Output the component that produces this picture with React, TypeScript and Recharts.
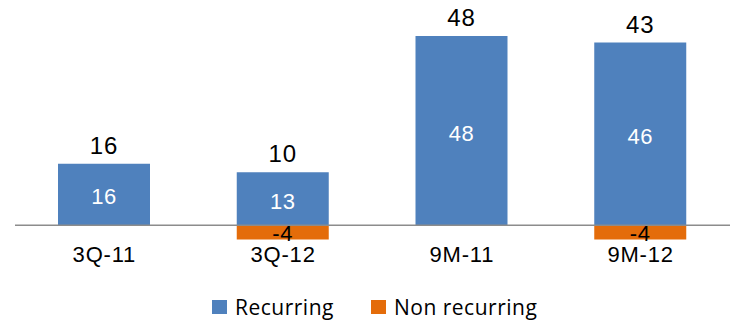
import React from 'react';
import { BarChart, Bar, XAxis, YAxis, ReferenceLine, LabelList, Legend } from 'recharts';

const categories = ['3Q-11', '3Q-12', '9M-11', '9M-12'];
const recurring = [15.6, 13.4, 48, 46.3];
const nonRecurring: (number | null)[] = [null, -3.6, null, -3.6];

const COLORS = {
  recurring: '#4F81BD',
  nonRecurring: '#E46C0A',
  axis: '#8C8C8C',
  text: '#000000',
};

const data = categories.map((category, i) => ({
  category,
  recurring: recurring[i],
  nonRecurring: nonRecurring[i],
  total: recurring[i] + (nonRecurring[i] ?? 0),
}));

// total above the positive stack
const TotalLabel = (props: any) => {
  const { x, y, width, value } = props;
  if (value == null) return null;
  return (
    <text x={x + width / 2} y={y - 10} textAnchor="middle" fontSize={24} letterSpacing={0.8} fill={COLORS.text}>
      {Math.round(value)}
    </text>
  );
};

const InnerLabel = (props: any) => {
  const { x, y, width, height, value } = props;
  if (value == null) return null;
  return (
    <text x={x + width / 2} y={y + height / 2} dy={10} textAnchor="middle" fontSize={22} letterSpacing={0.6} fill="#FFFFFF">
      {Math.round(value)}
    </text>
  );
};

const NegLabel = (props: any) => {
  const { x, y, width, height, value } = props;
  if (value == null || value === 0) return null;
  return (
    <text x={x + width / 2} y={y + height / 2} dy="0.4em" textAnchor="middle" fontSize={22} letterSpacing={0.6} fill={COLORS.text}>
      {Math.round(value)}
    </text>
  );
};

const LegendContent = () => (
  <div style={{ display: 'flex', alignItems: 'center', fontFamily: '"Open Sans", Lato, sans-serif', fontSize: 21, letterSpacing: 0.5, color: '#000' }}>
    <span style={{ width: 15, height: 14, background: COLORS.recurring, display: 'inline-block', marginRight: 8 }} />
    <span style={{ marginRight: 37 }}>Recurring</span>
    <span style={{ width: 15, height: 14, background: COLORS.nonRecurring, display: 'inline-block', marginRight: 8 }} />
    <span>Non recurring</span>
  </div>
);

export default function App() {
  return (
    <div style={{ position: 'absolute', left: 0, top: 0, width: 731, height: 324, background: '#fff', fontFamily: '"Liberation Sans", Arial, sans-serif' }}>
      <BarChart
        width={731}
        height={324}
        data={data}
        stackOffset="sign"
        barSize={92}
        margin={{ top: 28, right: 1, left: 15, bottom: 53 }}
      >
        <XAxis
          dataKey="category"
          axisLine={false}
          tickLine={false}
          tickSize={0}
          tickMargin={5}
          tick={{ fontSize: 22, fill: COLORS.text, letterSpacing: 0.8 }}
        />
        <YAxis hide domain={[-4, 50]} />
        <Legend
          verticalAlign="middle"
          align="center"
          layout="horizontal"
          wrapperStyle={{ top: 293, left: 212, width: 460 }}
          content={<LegendContent />}
        />
        <Bar dataKey="recurring" name="Recurring" stackId="a" fill={COLORS.recurring} isAnimationActive={false}>
          <LabelList dataKey="recurring" content={<InnerLabel />} />
          <LabelList dataKey="total" content={<TotalLabel />} />
        </Bar>
        <Bar dataKey="nonRecurring" name="Non recurring" stackId="a" fill={COLORS.nonRecurring} isAnimationActive={false}>
          <LabelList dataKey="nonRecurring" content={<NegLabel />} />
        </Bar>
        <ReferenceLine y={0} stroke={COLORS.axis} strokeWidth={1.5} />
      </BarChart>
    </div>
  );
}
